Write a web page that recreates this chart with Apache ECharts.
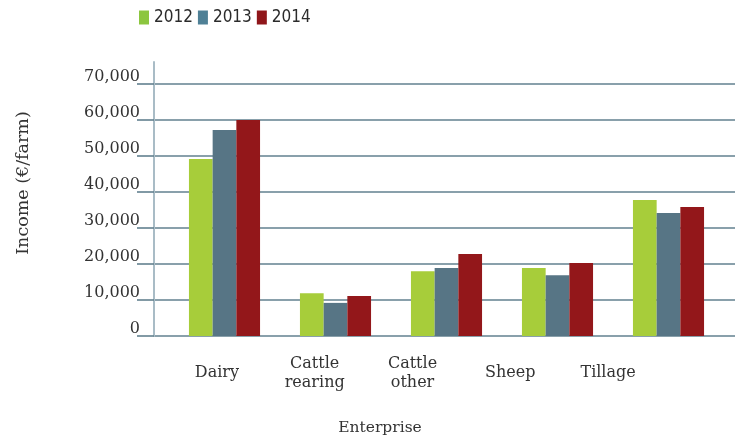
<!DOCTYPE html>
<html>
<head>
<meta charset="utf-8">
<script src="https://cdn.jsdelivr.net/npm/echarts@6/dist/echarts.min.js"></script>
<style>
  html, body { margin: 0; padding: 0; background: #fff; }
  #chart { width: 741px; height: 439px; }
</style>
</head>
<body>
<div id="chart"></div>
<script>
// Family farm income by enterprise, 2012-2014
const categories = ['Dairy', 'Cattle\nrearing', 'Cattle\nother', 'Sheep', 'Tillage'];
const years = ['2012', '2013', '2014'];
const income2012 = [49200, 11900, 18000, 18900, 37800];
const income2013 = [57200, 9200, 18900, 16900, 34200];
const income2014 = [60000, 11100, 22800, 20300, 35800];
const yTicks = { min: 0, max: 70000, interval: 10000 };

const barColors = ['#a7cd3a', '#577585', '#93171a'];
const legendColors = ['#8cc63f', '#4f8096', '#8f161a'];
const serif = "'DejaVu Serif', 'Liberation Serif', serif";
const textColor = '#333333';
const gridColor = '#62808f';

const seriesData = [income2012, income2013, income2014];

const chart = echarts.init(document.getElementById('chart'), null, { renderer: 'canvas' });

const fmt = v => v.toLocaleString('en-US');

chart.setOption({
  animation: false,
  backgroundColor: '#ffffff',
  legend: {
    left: 139,
    top: 9,
    padding: 0,
    itemWidth: 10,
    itemHeight: 14,
    itemGap: 5,
    icon: 'rect',
    textStyle: {
      fontFamily: "'Liberation Sans Narrow', 'DejaVu Sans Condensed', sans-serif",
      fontSize: 17,
      color: '#2b2b2b'
    },
    data: years.map((y, i) => ({ name: y, itemStyle: { color: legendColors[i] } }))
  },
  grid: [
    // value scale with split lines
    { left: 154, top: 84, width: 581, height: 252 },
    // bars
    { left: 169, top: 84, width: 555, height: 252 },
    // vertical axis line
    { left: 154, top: 62, width: 1, height: 274 },
    // category labels
    { left: 168, top: 84, width: 489, height: 252 }
  ],
  xAxis: [
    { gridIndex: 0, type: 'value', show: false },
    { gridIndex: 1, type: 'category', data: categories, show: false },
    { gridIndex: 2, type: 'value', show: false },
    {
      gridIndex: 3, type: 'category', data: categories,
      axisLine: { show: false }, axisTick: { show: false },
      axisLabel: {
        margin: 37,
        verticalAlign: 'middle',
        lineHeight: 19,
        fontFamily: serif,
        fontSize: 16,
        color: textColor
      }
    }
  ],
  yAxis: [
    {
      gridIndex: 0, type: 'value',
      min: yTicks.min, max: yTicks.max, interval: yTicks.interval,
      axisLine: { show: false },
      axisTick: { show: true, length: 17, lineStyle: { color: gridColor, width: 1.6 } },
      splitLine: { show: true, lineStyle: { color: gridColor, width: 1.6 } },
      axisLabel: {
        margin: 14,
        formatter: fmt,
        fontFamily: serif,
        fontSize: 16,
        color: textColor,
        verticalAlign: 'bottom',
        lineHeight: 14
      }
    },
    { gridIndex: 1, type: 'value', min: yTicks.min, max: yTicks.max, show: false },
    {
      gridIndex: 2, type: 'value', min: 0, max: 1,
      axisLine: { show: true, lineStyle: { color: '#a9bcc6', width: 2 } },
      axisTick: { show: false }, axisLabel: { show: false }, splitLine: { show: false }
    },
    { gridIndex: 3, type: 'value', show: false }
  ],
  series: years.map((y, i) => ({
    name: y,
    type: 'bar',
    xAxisIndex: 1,
    yAxisIndex: 1,
    barWidth: 23.7,
    barGap: '0%',
    itemStyle: { color: barColors[i] },
    data: seriesData[i]
  })),
  graphic: [
    {
      type: 'text',
      x: 23, y: 183,
      rotation: Math.PI / 2,
      style: {
        text: 'Income (€/farm)',
        fontFamily: serif,
        fontSize: 17.5,
        fill: textColor,
        textAlign: 'center',
        textVerticalAlign: 'middle'
      }
    },
    {
      type: 'text',
      x: 380, y: 428,
      style: {
        text: 'Enterprise',
        fontFamily: serif,
        fontSize: 15.5,
        fill: textColor,
        textAlign: 'center',
        textVerticalAlign: 'middle'
      }
    }
  ]
});
</script>
</body>
</html>
